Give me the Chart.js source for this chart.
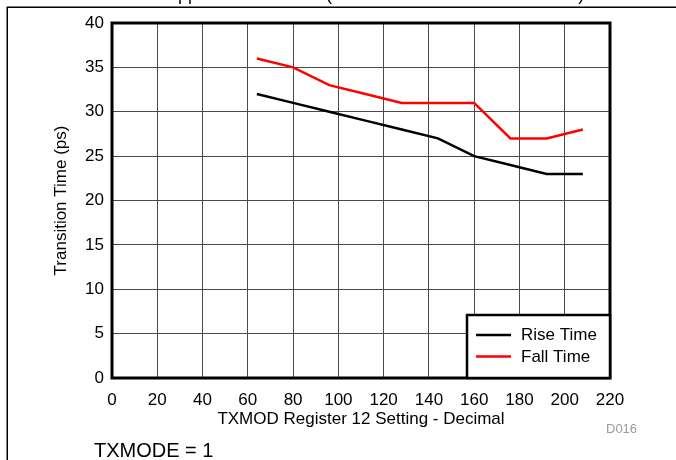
<!DOCTYPE html>
<html lang="en">
<head>
    <meta charset="UTF-8">
    <title>Transition Time vs TXMOD Register 12 Setting</title>
    <script src="https://cdn.jsdelivr.net/npm/chart.js"></script>
    <style>
        html, body {
            margin: 0;
            padding: 0;
            background: #ffffff;
        }
        #wrap {
            width: 676px;
            height: 460px;
        }
    </style>
</head>
<body>
    <div id="wrap">
        <canvas id="ttChart" width="676" height="460"></canvas>
    </div>

    <script>
        // register 12 settings (decimal)
        const settings = [64, 80, 96, 112, 128, 144, 160, 176, 192, 208];
        // transition times in ps
        const riseTime = [32, 31, 30, 29, 28, 27, 25, 24, 23, 23];
        const fallTime = [36, 35, 33, 32, 31, 31, 31, 27, 27, 28];
        const seriesNames = ['Rise Time', 'Fall Time'];
        const seriesColors = ['#000000', '#ff0000'];

        const FONT = '"Liberation Sans", Arial, sans-serif';

        function toPoints(xs, ys) {
            return xs.map((x, i) => ({ x: x, y: ys[i] }));
        }

        // frame, plot border, boxed legend and footer texts
        const decor = {
            id: 'decor',
            afterDatasetsDraw(chart) {
                const ctx = chart.ctx;
                const a = chart.chartArea;
                ctx.save();

                // outer page frame (left + top)
                ctx.strokeStyle = '#000';
                ctx.lineWidth = 1.5;
                ctx.beginPath();
                ctx.moveTo(7.25, 460);
                ctx.lineTo(7.25, 7.25);
                ctx.lineTo(676, 7.25);
                ctx.stroke();

                // heading cut off by the top edge, only descenders show
                ctx.fillStyle = '#000';
                ctx.font = '18px ' + FONT;
                ctx.textBaseline = 'alphabetic';
                const head = 'Transition Time Approximate Model (TXMOD at Nominal Conditions)';
                const x0 = 178 - ctx.measureText('Transition Time A').width;
                ctx.fillText(head, x0, 0);

                // plot border
                ctx.lineWidth = 3;
                ctx.strokeRect(a.left, a.top, a.right - a.left, a.bottom - a.top);

                // legend box in lower right corner
                const bx = 467, by = 315, bw = a.right - 467, bh = a.bottom - 315;
                ctx.fillStyle = '#fff';
                ctx.fillRect(bx, by, bw, bh);
                ctx.lineWidth = 2.5;
                ctx.strokeRect(bx, by, bw, bh);
                ctx.font = '17px ' + FONT;
                ctx.textBaseline = 'middle';
                chart.data.datasets.forEach((ds, i) => {
                    const yy = 335 + i * 21.5;
                    ctx.strokeStyle = ds.borderColor;
                    ctx.lineWidth = 2.5;
                    ctx.beginPath();
                    ctx.moveTo(476, yy);
                    ctx.lineTo(511, yy);
                    ctx.stroke();
                    ctx.fillStyle = '#000';
                    ctx.fillText(ds.label, 521, yy + 0.5);
                });

                // figure id and condition note
                ctx.fillStyle = '#9a9a9a';
                ctx.font = '13px ' + FONT;
                ctx.fillText('D016', 606, 429);
                ctx.fillStyle = '#000';
                ctx.font = '20px ' + FONT;
                ctx.textBaseline = 'alphabetic';
                ctx.fillText('TXMODE = 1', 94, 457);

                ctx.restore();
            }
        };

        const ctx = document.getElementById('ttChart').getContext('2d');
        new Chart(ctx, {
            type: 'line',
            data: {
                datasets: [
                    {
                        label: seriesNames[0],
                        data: toPoints(settings, riseTime),
                        borderColor: seriesColors[0],
                        backgroundColor: seriesColors[0],
                        borderWidth: 2.5,
                        pointRadius: 0,
                        tension: 0
                    },
                    {
                        label: seriesNames[1],
                        data: toPoints(settings, fallTime),
                        borderColor: seriesColors[1],
                        backgroundColor: seriesColors[1],
                        borderWidth: 2.5,
                        pointRadius: 0,
                        tension: 0
                    }
                ]
            },
            options: {
                responsive: false,
                animation: false,
                layout: {
                    padding: { left: 0, right: 66, top: 23, bottom: 0 }
                },
                plugins: {
                    legend: { display: false },
                    tooltip: { enabled: false }
                },
                scales: {
                    x: {
                        type: 'linear',
                        min: 0,
                        max: 220,
                        afterFit(scale) { scale.height = 82; },
                        border: { display: false },
                        grid: { color: '#4a4a4a', lineWidth: 1, drawTicks: false },
                        ticks: {
                            stepSize: 20,
                            padding: 12,
                            color: '#000',
                            maxRotation: 0,
                            font: { family: FONT, size: 17 }
                        },
                        title: {
                            display: true,
                            text: 'TXMOD Register 12 Setting - Decimal',
                            color: '#000',
                            font: { family: FONT, size: 17 },
                            padding: { top: 0, bottom: 30 }
                        }
                    },
                    y: {
                        min: 0,
                        max: 40,
                        afterFit(scale) { scale.width = 112; },
                        border: { display: false },
                        grid: { color: '#4a4a4a', lineWidth: 1, drawTicks: false },
                        ticks: {
                            stepSize: 5,
                            padding: 8,
                            color: '#000',
                            font: { family: FONT, size: 17 }
                        },
                        title: {
                            display: true,
                            text: 'Transition Time (ps)',
                            color: '#000',
                            font: { family: FONT, size: 17 },
                            padding: { top: 51, bottom: 0 }
                        }
                    }
                }
            },
            plugins: [decor]
        });
    </script>
</body>
</html>
